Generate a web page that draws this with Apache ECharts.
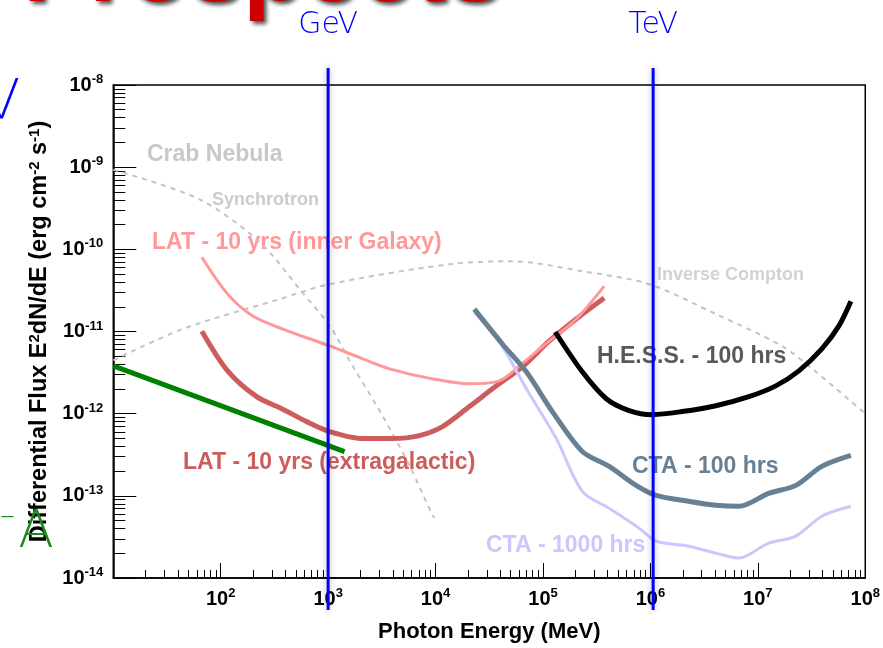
<!DOCTYPE html>
<html>
<head>
<meta charset="utf-8">
<script src="https://cdn.jsdelivr.net/npm/echarts@6/dist/echarts.min.js"></script>
<style>
  html, body { margin: 0; padding: 0; background: #ffffff; }
  #chart { width: 883px; height: 648px; }
</style>
</head>
<body>
<div id="chart"></div>
<script>
// Photon energy in MeV, flux E^2 dN/dE in erg cm^-2 s^-1

// Crab Nebula model components (dashed)
const syncEnergy = [10, 64, 231, 543, 1033, 1690, 3206, 5715, 9354, 9800];
const syncFlux   = [9.3e-10, 4.04e-10, 1.22e-10, 3.27e-11, 1.17e-11, 3.82e-12, 9.46e-13, 2.34e-13, 5.8e-14, 5.4e-14];

const icEnergy = [10, 44, 354, 1033, 13460, 51900, 2.32e5, 9.7e5, 4.07e6, 1.67e7, 3.47e7, 9.5e7, 1e8];
const icFlux   = [4.45e-12, 1.07e-11, 2.48e-11, 3.77e-11, 6.58e-11, 7.16e-11, 5.41e-11, 3.77e-11, 1.63e-11, 6.67e-12, 3.23e-12, 1.06e-12, 1.0e-12];

// Fermi-LAT 10 year sensitivities
const latGalEnergy = [66.7, 116, 199, 378, 1033, 2094, 3733, 9354, 20650, 39260, 60260, 114600, 204200, 371500];
const latGalFlux   = [8.0e-11, 2.85e-11, 1.54e-11, 1.07e-11, 6.67e-12, 4.65e-12, 3.51e-12, 2.65e-12, 2.31e-12, 2.51e-12, 3.82e-12, 7.67e-12, 1.42e-11, 3.56e-11];

const latExgEnergy = [66.7, 116, 216, 370, 631, 1033, 2094, 3972, 7080, 11590, 20650, 36810, 64270, 114600, 204200, 371500];
const latExgFlux   = [1.01e-11, 3.32e-12, 1.61e-12, 1.15e-12, 8.0e-13, 6.05e-13, 4.98e-13, 4.98e-13, 5.41e-13, 6.95e-13, 1.22e-12, 2.18e-12, 3.72e-12, 7.67e-12, 1.42e-11, 2.55e-11];

// Straight power-law segment
const greenEnergy = [10, 1422];
const greenFlux   = [3.82e-12, 3.46e-13];

// Ground-based instruments
const cta1000Energy = [22960, 39260, 69980, 133000, 232300, 413000, 785200, 1.13e6, 2.27e6, 4.07e6, 6.67e6, 1.26e7, 2.26e7, 3.94e7, 7.35e7];
const cta1000Flux   = [1.72e-11, 7.46e-12, 2.01e-12, 4.98e-13, 1.135e-13, 7.05e-14, 4.04e-14, 2.81e-14, 2.44e-14, 2.01e-14, 1.75e-14, 2.65e-14, 3.23e-14, 5.65e-14, 7.46e-14];

const cta100Energy = [22960, 41880, 69980, 122200, 232300, 413000, 736200, 1.13e6, 2.27e6, 4.07e6, 6.67e6, 1.26e7, 2.26e7, 3.94e7, 7.35e7];
const cta100Flux   = [1.87e-11, 7.05e-12, 3.23e-12, 1.06e-12, 3.46e-13, 2.28e-13, 1.34e-13, 1.01e-13, 8.57e-14, 7.67e-14, 7.46e-14, 1.07e-13, 1.34e-13, 2.28e-13, 3.1e-13];

const hessEnergy = [130000, 232300, 388200, 633900, 1.04e6, 1.97e6, 4.07e6, 8.26e6, 1.47e7, 2.41e7, 3.94e7, 5.68e7, 7.35e7];
const hessFlux   = [9.86e-12, 3.23e-12, 1.52e-12, 1.09e-12, 9.73e-13, 1.06e-12, 1.25e-12, 1.61e-12, 2.18e-12, 3.32e-12, 6.14e-12, 1.17e-11, 2.34e-11];

// Energy-scale guides
const guideEnergy = [1000, 1.06e6];
const guideNames  = ['GeV', 'TeV'];

// Axis decades (exponents) and labels
const xDecades = [1, 2, 3, 4, 5, 6, 7, 8];
const xLabelDecades = [2, 3, 4, 5, 6, 7, 8];
const yDecades = [-14, -13, -12, -11, -10, -9, -8];

const X_MIN = 1, X_MAX = 8, Y_MIN = -14, Y_MAX = -8;

function logMinor(decades) {
  const out = [];
  for (let i = 0; i < decades.length - 1; i++) {
    for (let m = 2; m <= 9; m++) out.push(decades[i] + Math.log10(m));
  }
  return out;
}

function toLog(es, fs) {
  return es.map((e, i) => [Math.log10(e), Math.log10(fs[i])]);
}

const FONT = '"Liberation Sans", Arial, sans-serif';
const supRich = {
  b: { fontSize: 20, fontWeight: 'bold', fontFamily: FONT, color: '#000', lineHeight: 24 },
  s: { fontSize: 13, fontWeight: 'bold', fontFamily: FONT, color: '#000', verticalAlign: 'top' }
};
const powerLabel = v => '{b|10}{s|' + Math.round(v) + '}';

function curve(name, es, fs, color, width, extra) {
  return Object.assign({
    type: 'line', name: name, data: toLog(es, fs),
    showSymbol: false, smooth: 0.3, silent: true,
    lineStyle: { color: color, width: width, cap: 'butt', join: 'round' },
    xAxisIndex: 0, yAxisIndex: 0
  }, extra || {});
}

const chart = echarts.init(document.getElementById('chart'), null, { renderer: 'canvas' });

const option = {
  animation: false,
  backgroundColor: '#ffffff',
  grid: { left: 113.3, right: 15.5, top: 85, bottom: 68, show: true, borderColor: '#000', borderWidth: 1.5, backgroundColor: 'transparent' },
  xAxis: [
    {
      type: 'value', min: X_MIN, max: X_MAX, position: 'bottom',
      axisLine: { show: true, lineStyle: { color: '#000', width: 1.5 } },
      axisTick: { show: true, inside: true, length: 15, customValues: xDecades, lineStyle: { color: '#000', width: 1 } },
      axisLabel: { show: true, customValues: xLabelDecades, formatter: powerLabel, rich: supRich, margin: 9 },
      splitLine: { show: false },
      name: 'Photon Energy (MeV)', nameLocation: 'middle', nameGap: 43,
      nameTextStyle: { fontSize: 22, fontWeight: 'bold', fontFamily: FONT, color: '#000' }
    },
    {
      type: 'value', min: X_MIN, max: X_MAX, position: 'bottom',
      axisLine: { show: false },
      axisTick: { show: true, inside: true, length: 8, customValues: logMinor(xDecades), lineStyle: { color: '#000', width: 1 } },
      axisLabel: { show: false },
      splitLine: { show: false }
    }
  ],
  yAxis: [
    {
      type: 'value', min: Y_MIN, max: Y_MAX, position: 'left',
      axisLine: { show: true, lineStyle: { color: '#000', width: 1.5 } },
      axisTick: { show: true, inside: true, length: 23, customValues: yDecades, lineStyle: { color: '#000', width: 1 } },
      axisLabel: { show: true, customValues: yDecades, formatter: powerLabel, rich: supRich, margin: 10 },
      splitLine: { show: false },
      name: 'Differential Flux E{s|2}dN/dE (erg cm{s|-2} s{s|-1})', nameLocation: 'middle', nameGap: 62,
      nameTextStyle: {
        fontSize: 23.5, fontWeight: 'bold', fontFamily: FONT, color: '#000',
        rich: { s: { fontSize: 15, fontWeight: 'bold', fontFamily: FONT, color: '#000', verticalAlign: 'top' } }
      }
    },
    {
      type: 'value', min: Y_MIN, max: Y_MAX, position: 'left',
      axisLine: { show: false },
      axisTick: { show: true, inside: true, length: 12, customValues: logMinor(yDecades), lineStyle: { color: '#000', width: 1 } },
      axisLabel: { show: false },
      splitLine: { show: false }
    }
  ],
  series: [
    curve('Synchrotron', syncEnergy, syncFlux, '#c4c4c4', 2, { lineStyle: { color: '#c4c4c4', width: 2, type: [5, 5] } }),
    curve('Inverse Compton', icEnergy, icFlux, '#c4c4c4', 2, { lineStyle: { color: '#c4c4c4', width: 2, type: [5, 5] } }),
    curve('LAT - 10 yrs (extragalactic)', latExgEnergy, latExgFlux, '#cd5c5c', 5),
    curve('LAT - 10 yrs (inner Galaxy)', latGalEnergy, latGalFlux, '#ff9999', 3),
    curve('Power law', greenEnergy, greenFlux, '#008000', 5, { smooth: false }),
    curve('CTA - 1000 hrs', cta1000Energy, cta1000Flux, '#c8c8ff', 3),
    curve('CTA - 100 hrs', cta100Energy, cta100Flux, '#688094', 5),
    curve('H.E.S.S. - 100 hrs', hessEnergy, hessFlux, '#000000', 5),
    {
      type: 'custom', name: 'Energy scale', clip: false, silent: true, z: 10,
      xAxisIndex: 0, yAxisIndex: 0,
      data: guideEnergy.map(e => [Math.log10(e)]),
      renderItem: function (params, api) {
        const x = api.value(0);
        const top = api.coord([x, Y_MAX]);
        const bottom = api.coord([x, Y_MIN]);
        return {
          type: 'group',
          children: [
            {
              type: 'line',
              shape: { x1: top[0], y1: top[1] - 17, x2: top[0], y2: bottom[1] + 32 },
              style: { stroke: '#0000ff', lineWidth: 3, shadowBlur: 6, shadowColor: 'rgba(0,0,0,0.3)' }
            },
            {
              type: 'text',
              style: {
                x: top[0], y: top[1] - 60, text: guideNames[params.dataIndex],
                fill: '#0000ff', font: '200 30px "DejaVu Sans"',
                textAlign: 'center', textVerticalAlign: 'middle'
              }
            }
          ]
        };
      }
    }
  ],
  graphic: [
    { type: 'text', x: 23, y: -76, z: 5, style: { text: 'Prospects', fill: '#cc0000', font: 'bold 99px "Liberation Sans"', textShadowColor: 'rgba(0,0,0,0.7)', textShadowBlur: 4, textShadowOffsetX: 3, textShadowOffsetY: 3 } },
    { type: 'text', x: -18, y: 103, z: 100, style: { text: 'V', fill: '#0000ff', font: '200 56px "DejaVu Sans"', textVerticalAlign: 'middle' } },
    { type: 'text', x: 36, y: 533, z: 100, zlevel: 1, style: { text: 'A', fill: '#1a8a1a', font: '300 52px "DejaVu Sans"', textAlign: 'center', textVerticalAlign: 'middle' } },
    { type: 'text', x: 0, y: 517, z: 100, zlevel: 1, style: { text: '\u2013', fill: '#1a8a1a', font: '200 30px "DejaVu Sans"', textVerticalAlign: 'middle' } },

    { type: 'text', x: 147, y: 155, style: { text: 'Crab Nebula', fill: '#c8c8c8', font: 'bold 23px "Liberation Sans"', textVerticalAlign: 'middle' } },
    { type: 'text', x: 212, y: 200, style: { text: 'Synchrotron', fill: '#cccccc', font: 'bold 18px "Liberation Sans"', textVerticalAlign: 'middle' } },
    { type: 'text', x: 152, y: 243, style: { text: 'LAT - 10 yrs (inner Galaxy)', fill: '#ff9999', font: 'bold 23px "Liberation Sans"', textVerticalAlign: 'middle' } },
    { type: 'text', x: 183, y: 463, style: { text: 'LAT - 10 yrs (extragalactic)', fill: '#cd5c5c', font: 'bold 23px "Liberation Sans"', textVerticalAlign: 'middle' } },
    { type: 'text', x: 657, y: 275, style: { text: 'Inverse Compton', fill: '#d2d2d2', font: 'bold 18px "Liberation Sans"', textVerticalAlign: 'middle' } },
    { type: 'text', x: 597, y: 357, style: { text: 'H.E.S.S. - 100 hrs', fill: '#585858', font: 'bold 23px "Liberation Sans"', textVerticalAlign: 'middle' } },
    { type: 'text', x: 632, y: 467, style: { text: 'CTA - 100 hrs', fill: '#688094', font: 'bold 23px "Liberation Sans"', textVerticalAlign: 'middle' } },
    { type: 'text', x: 486, y: 546, style: { text: 'CTA - 1000 hrs', fill: '#c8c8ff', font: 'bold 23px "Liberation Sans"', textVerticalAlign: 'middle' } }
  ]
};

chart.setOption(option);
</script>
</body>
</html>
